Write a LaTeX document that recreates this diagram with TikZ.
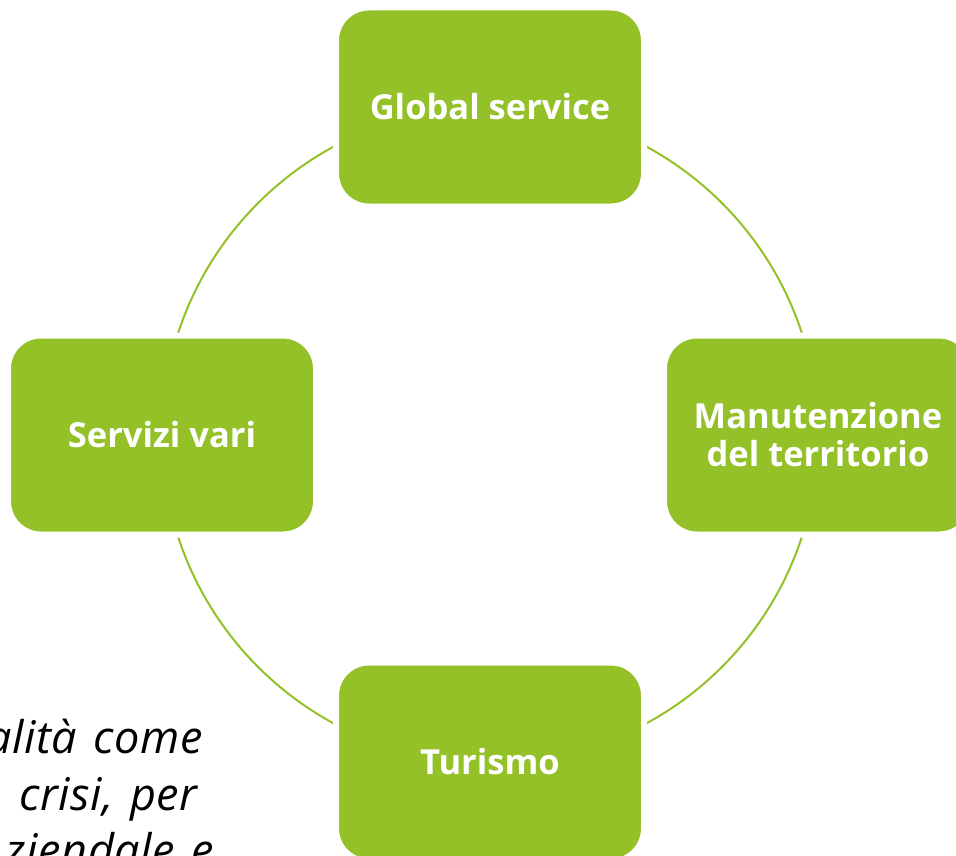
\documentclass[tikz,border=0pt]{standalone}
\usepackage{fontspec}
\setmainfont{Open Sans}
\newfontfamily\notefont[LetterSpace=1.5,WordSpace=1.3]{Open Sans}
\definecolor{sgreen}{HTML}{93C127}
\begin{document}
\begin{tikzpicture}[x=1pt,y=-1pt,
  box/.style={rounded corners=33pt, fill=sgreen, draw=white, line width=6pt,
    minimum width=308pt, minimum height=199pt, text=white, inner sep=0pt,
    font=\fontsize{34.5}{38}\selectfont\bfseries, align=center},
  ring/.style={draw=sgreen, line width=2pt},
  note/.style={anchor=base east, inner sep=0pt, text=black,
    font=\notefont\fontsize{45}{57}\selectfont\itshape}]
\useasboundingbox (0,0) rectangle (956,856);
\clip (0,0) rectangle (956,856);
\coordinate (c) at (490,435);
\draw[ring] (c) circle[radius=328];
\node[box] (g) at (490,107) {Global service};
\node[box] (m) at (818,435) {Manutenzione\\del territorio};
\node[box] (t) at (490,762) {Turismo};
\node[box] (s) at (162,435) {Servizi vari};
\node[note] (l1) at (203,753) {alità come};
\node[note] (l2) at (198,810) {crisi, per};
\node[note] (l3) at (214,866) {ziendale e};
\end{tikzpicture}
\end{document}
